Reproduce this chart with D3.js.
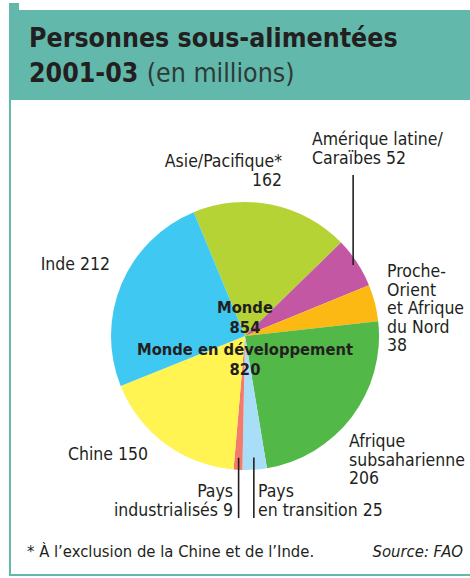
<!DOCTYPE html>
<html>
<head>
<meta charset="utf-8">
<script src="https://cdn.jsdelivr.net/npm/d3@7"></script>
<style>
body { margin: 0; background: #fff; }
text { font-family: "DejaVu Sans Condensed", "DejaVu Sans", sans-serif; fill: #231f20; }
</style>
</head>
<body>
<svg id="chart" width="470" height="578"></svg>
<script>
// regions, clockwise from Asie/Pacifique
var regions = ["Asie/Pacifique", "Amérique latine/Caraïbes", "Proche-Orient et Afrique du Nord",
  "Afrique subsaharienne", "Pays en transition", "Pays industrialisés", "Chine", "Inde"];
var values = [162, 52, 38, 206, 25, 9, 150, 212];
var colors = ["#b5d334", "#c457a3", "#fdb913", "#52b848", "#a9def8", "#f47b6b", "#fff452", "#3fc8f2"];
var worldTotal = 854;
var developingTotal = 820;

var svg = d3.select("#chart");
var teal = "#62b9ab";

// frame
svg.append("rect").attr("x", 9).attr("y", 10).attr("width", 461).attr("height", 90).style("fill", teal);
svg.append("rect").attr("x", 9).attr("y", 3).attr("width", 10).attr("height", 8).style("fill", teal);
svg.append("rect").attr("x", 9).attr("y", 10).attr("width", 2).attr("height", 566).style("fill", teal);
svg.append("rect").attr("x", 9).attr("y", 574).attr("width", 461).attr("height", 2).style("fill", teal);

svg.append("text").attr("x", 29).attr("y", 47)
  .style("font-size", "26.5px").style("font-weight", "bold")
  .text("Personnes sous-alimentées");
var t2 = svg.append("text").attr("x", 29).attr("y", 82).style("font-size", "26.5px");
t2.append("tspan").style("font-weight", "bold").text("2001-03 ");
t2.append("tspan").style("fill", "#2e3a37").text("(en millions)");

// pie
var cx = 245, cy = 336, R = 134;
var g = svg.append("g").attr("transform", "translate(" + cx + "," + cy + ")");

var pie = d3.pie().sort(null).value(function(d) { return d; })
  .startAngle(-22.5 * Math.PI / 180).endAngle((360 - 22.5) * Math.PI / 180);
var arcs = pie(values);
var arc = d3.arc().innerRadius(0).outerRadius(R);

g.selectAll("path.slice").data(arcs).enter().append("path")
  .attr("class", "slice")
  .attr("d", arc)
  .style("fill", function(d, i) { return colors[i]; });

// leader lines (vertical), from a point inside the slice
function mid(d) { return (d.startAngle + d.endAngle) / 2; }
var leaders = [
  { i: 1, r: 0.965, y2: -161 },
  { i: 4, r: 0.91, y2: 182 },
  { i: 5, r: 0.91, y2: 182 }
];
leaders.forEach(function(l) {
  var a = mid(arcs[l.i]);
  var x = Math.sin(a) * R * l.r, y = -Math.cos(a) * R * l.r;
  g.append("line").attr("x1", x).attr("x2", x).attr("y1", y).attr("y2", l.y2)
    .style("stroke", "#231f20").style("stroke-width", 1.6);
});

// labels
var labels = [
  { lines: ["Asie/Pacifique*", values[0]], x: 282, y: 167, anchor: "end" },
  { lines: ["Amérique latine/", "Caraïbes " + values[1]], x: 312, y: 145, anchor: "start" },
  { lines: ["Proche-", "Orient", "et Afrique", "du Nord", values[2]], x: 387, y: 277, anchor: "start" },
  { lines: ["Afrique", "subsaharienne", values[3]], x: 349, y: 447, anchor: "start" },
  { lines: ["Pays", "en transition " + values[4]], x: 258, y: 497, anchor: "start" },
  { lines: ["Pays", "industrialisés " + values[5]], x: 233, y: 497, anchor: "end" },
  { lines: ["Chine " + values[6]], x: 148, y: 460, anchor: "end" },
  { lines: ["Inde " + values[7]], x: 110, y: 270, anchor: "end" }
];
labels.forEach(function(l) {
  var t = svg.append("text").attr("x", l.x).attr("y", l.y)
    .attr("text-anchor", l.anchor).style("font-size", "17.5px");
  l.lines.forEach(function(s, k) {
    t.append("tspan").attr("x", l.x).attr("dy", k === 0 ? 0 : 18.5).text(s);
  });
});

// centre
var centre = [["Monde", 313], [worldTotal, 333], ["Monde en développement", 355], [developingTotal, 375]];
centre.forEach(function(c) {
  svg.append("text").attr("x", cx).attr("y", c[1]).attr("text-anchor", "middle")
    .style("font-size", "16.4px").style("font-weight", "bold").text(c[0]);
});

// footer
svg.append("text").attr("x", 27).attr("y", 557).style("font-size", "16.5px")
  .text("* À l’exclusion de la Chine et de l’Inde.");
svg.append("text").attr("x", 463).attr("y", 557).attr("text-anchor", "end")
  .style("font-size", "16.5px").style("font-style", "italic").text("Source: FAO");
</script>
</body>
</html>
